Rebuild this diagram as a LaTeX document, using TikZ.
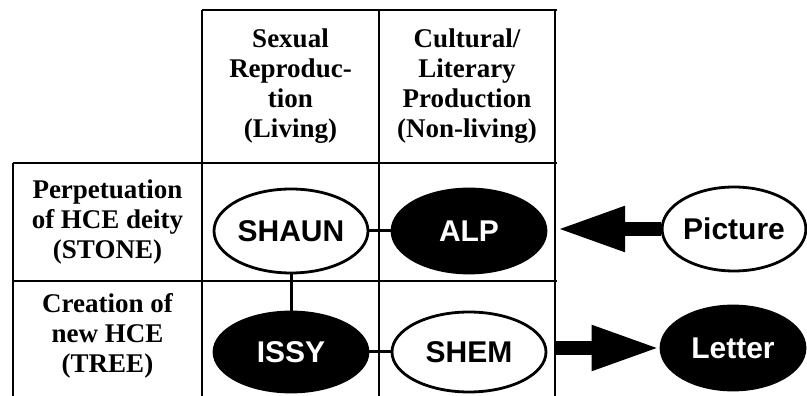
\documentclass[tikz,border=0pt]{standalone}
\usepackage{fontspec}
\setmainfont{Liberation Serif}
\newfontfamily\arialfont{Liberation Sans}
\usetikzlibrary{shapes.geometric,arrows.meta}

\tikzset{
  grid/.style={line width=1.3pt},
  lbl/.style={font=\fontsize{27}{30}\selectfont\bfseries, align=center},
  person/.style={ellipse, draw, line width=2.8pt, inner sep=0pt, minimum width=154pt, minimum height=84pt,
    font=\arialfont\fontsize{30}{30}\selectfont\bfseries},
  light/.style={person, fill=white, text=black},
  dark/.style={person, fill=black, text=white},
  link/.style={line width=3pt},
  bigarrow/.style={line width=14pt, -{Triangle[length=68pt,width=42pt]}}
}

\begin{document}
\begin{tikzpicture}[x=1pt,y=1pt]
\useasboundingbox (0,0) rectangle (807,396);

% table
\draw[grid] (202,386) -- (557,386);
\draw[grid] (13,233) -- (557,233);
\draw[grid] (13,115) -- (557,115);
\draw[grid] (13,233) -- (13,0);
\foreach \x in {202,379,555} {\draw[grid] (\x,386) -- (\x,0);}

% headings
\node[lbl] (hsex) at (290.5,309.5) {Sexual\\Reproduc-\\tion\\(Living)};
\node[lbl] (hcult) at (467,309.5) {Cultural/\\Literary\\Production\\(Non-living)};
\node[lbl] (hstone) at (107.5,174) {Perpetuation\\of HCE deity\\(STONE)};
\node[lbl] (htree) at (107.5,60) {Creation of\\new HCE\\(TREE)};

% figures
\node[light] (shaun) at (291,165) {SHAUN};
\node[dark] (alp) at (469,165) {ALP};
\node[dark, minimum height=80pt] (issy) at (291,44) {ISSY};
\node[light, minimum height=80pt] (shem) at (469,44) {SHEM};
\node[light, minimum width=142pt] (pic) at (734,167) {Picture};
\node[dark, minimum width=144pt] (letter) at (733,48) {Letter};

\draw[link] (shaun) -- (alp);
\draw[link] (shaun) -- (issy);
\draw[link] (issy) -- (shem);

\coordinate (pictip) at (557,167);
\coordinate (letstart) at (555,48);
\draw[bigarrow] (pic) -- (pictip);
\draw[bigarrow] (letstart) -- (letter);

\end{tikzpicture}
\end{document}
